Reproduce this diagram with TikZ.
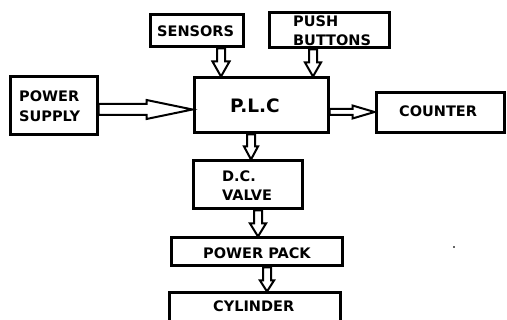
\documentclass[tikz,border=0pt]{standalone}
\usepackage{fontspec}
\setmainfont{DejaVu Sans}
\usetikzlibrary{calc}
\tikzset{
  box/.style={draw=black, line width=3pt, fill=white, inner sep=0pt},
  lbl/.style={anchor=base west, inner sep=0pt, font=\bfseries\fontsize{14.5pt}{16pt}\selectfont, text=black},
  blk/.style={draw=black, fill=white, line width=2pt, line join=miter},
}
\newcommand\vblk[6]{%
  \draw[blk] let \p1=(#1), \p2=(#2) in
    (#3pt-#4pt,\y1) -- (#3pt-#4pt,\y2+#6pt) -- (#3pt-#5pt,\y2+#6pt) -- (#3pt,\y2)
    -- (#3pt+#5pt,\y2+#6pt) -- (#3pt+#4pt,\y2+#6pt) -- (#3pt+#4pt,\y1) -- cycle;}
\newcommand\hblk[6]{%
  \draw[blk] let \p1=(#1), \p2=(#2) in
    (\x1,-#3pt+#4pt) -- (\x2-#6pt,-#3pt+#4pt) -- (\x2-#6pt,-#3pt+#5pt) -- (\x2,-#3pt)
    -- (\x2-#6pt,-#3pt-#5pt) -- (\x2-#6pt,-#3pt-#4pt) -- (\x1,-#3pt-#4pt) -- cycle;}
\begin{document}
\begin{tikzpicture}[x=1pt,y=-1pt]
\useasboundingbox (0,0) rectangle (507,320);
\clip (0,0) rectangle (507,320);
% boxes
\node[box, minimum width=93pt, minimum height=32pt] (sens) at (196.5,31) {};
\node[box, minimum width=120pt, minimum height=35pt] (push) at (329,30.5) {};
\node[box, minimum width=87pt, minimum height=58pt] (pwr) at (53.5,106) {};
\node[box, minimum width=134pt, minimum height=55pt] (plc) at (261,105.5) {};
\node[box, minimum width=128pt, minimum height=40pt] (cnt) at (440,113) {};
\node[box, minimum width=109pt, minimum height=48pt] (dcv) at (247.5,185) {};
\node[box, minimum width=171pt, minimum height=28pt] (pp) at (256.5,252) {};
\node[box, minimum width=171pt, minimum height=40pt] (cyl) at (254.5,313) {};
% arrows
\hblk{pwr.east}{plc.west}{109.5}{5.5}{9.5}{46}
\hblk{plc.east}{cnt.west}{112}{3}{6.5}{22}
\vblk{sens.south}{plc.north}{221}{4}{8.5}{15}
\vblk{push.south}{plc.north}{313}{4}{8}{14}
\vblk{plc.south}{dcv.north}{251}{4}{7}{13}
\vblk{dcv.south}{pp.north}{258}{4}{8}{13}
\vblk{pp.south}{cyl.north}{267}{4}{7}{11}
% labels
\node[lbl] (tsens) at (157,37) {SENSORS};
\node[lbl] (tpush1) at (293,27) {PUSH};
\node[lbl] (tpush2) at (293,46) {BUTTONS};
\node[lbl] (tpwr1) at (19,102) {POWER};
\node[lbl] (tpwr2) at (19,122) {SUPPLY};
\node[lbl, font=\bfseries\fontsize{18.5pt}{20pt}\selectfont] (tplc) at (230,113) {P.L.C};
\node[lbl] (tcnt) at (399,117) {COUNTER};
\node[lbl] (tdcv1) at (222,182) {D.C.};
\node[lbl] (tdcv2) at (222,201) {VALVE};
\node[lbl] (tpp) at (203,259) {POWER PACK};
\node[lbl] (tcyl) at (213,312) {CYLINDER};
% stray dot
\fill[black!60] (452.5,246) rectangle (454.5,248);
\end{tikzpicture}
\end{document}
